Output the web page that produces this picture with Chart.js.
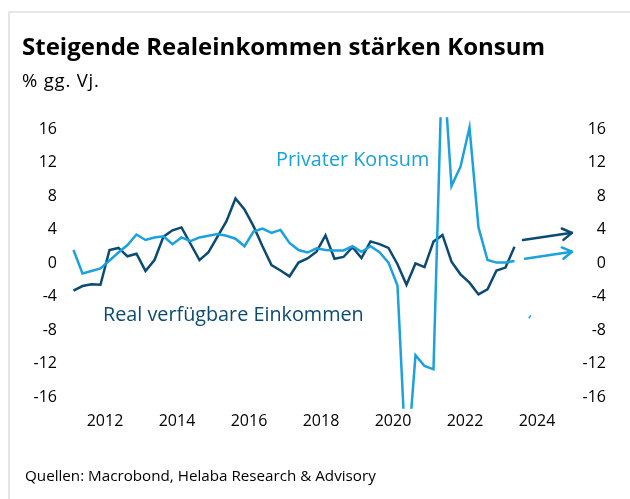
<!DOCTYPE html>
<html><head><meta charset="utf-8">
<script src="https://cdn.jsdelivr.net/npm/chart.js@4.4.0/dist/chart.umd.min.js"></script>
<style>
html,body{margin:0;padding:0;background:#fff;width:630px;height:499px;overflow:hidden;font-family:"Open Sans",sans-serif;color:#000;}
#frame{position:absolute;left:8px;top:11px;right:0;bottom:0;border-top:2px solid #e6e6e6;border-left:2px solid #e6e6e6;}
#title{position:absolute;left:22px;top:34px;font-weight:700;font-size:24px;line-height:24px;white-space:nowrap;}
#sub{position:absolute;left:22px;top:71px;font-size:18.5px;line-height:18px;letter-spacing:0.8px;white-space:nowrap;}
#src{position:absolute;left:25px;top:468px;font-size:15.2px;line-height:15px;white-space:nowrap;}
#c{position:absolute;left:0;top:0;}
</style></head>
<body>
<div id="frame"></div>
<canvas id="c" width="630" height="499"></canvas>
<div id="title">Steigende Realeinkommen stärken Konsum</div>
<div id="sub">% gg. Vj.</div>
<div id="src">Quellen: Macrobond, Helaba Research &amp; Advisory</div>
<script>
const quarters = [
 "2011Q1","2011Q2","2011Q3","2011Q4","2012Q1","2012Q2","2012Q3","2012Q4",
 "2013Q1","2013Q2","2013Q3","2013Q4","2014Q1","2014Q2","2014Q3","2014Q4",
 "2015Q1","2015Q2","2015Q3","2015Q4","2016Q1","2016Q2","2016Q3","2016Q4",
 "2017Q1","2017Q2","2017Q3","2017Q4","2018Q1","2018Q2","2018Q3","2018Q4",
 "2019Q1","2019Q2","2019Q3","2019Q4","2020Q1","2020Q2","2020Q3","2020Q4",
 "2021Q1","2021Q2","2021Q3","2021Q4","2022Q1","2022Q2","2022Q3","2022Q4",
 "2023Q1","2023Q2"];
const privaterKonsum = [
 1.55,-1.25,-0.95,-0.65, 0.3,1.25,2.15,3.4,
 2.75,3.05,3.2,2.25, 3.05,2.6,3.05,3.25,
 3.45,3.25,2.9,2.0, 3.75,4.1,3.6,3.95,
 2.4,1.55,1.25,1.75, 1.55,1.5,1.5,2.0,
 1.35,2.0,1.3,0.05, -2.7,-25.0,-11.0,-12.3,
 -12.7,25.5,9.2,11.5, 16.2,4.25,0.35,0.05,
 0.05,0.25];
const realEinkommen = [
 -3.3,-2.75,-2.55,-2.6, 1.55,1.8,0.8,1.1,
 -0.95,0.35,3.15,3.9, 4.25,2.3,0.35,1.3,
 3.15,5.0,7.7,6.4, 4.4,2.0,-0.25,-0.9,
 -1.6,0.05,0.55,1.35, 3.3,0.5,0.72,1.9,
 0.6,2.58,2.25,1.8, -0.15,-2.6,-0.05,-0.5,
 2.55,3.35,0.15,-1.35, -2.35,-3.75,-3.15,-0.9,
 -0.55,1.95];
const yTicks = [-16,-12,-8,-4,0,4,8,12,16];
const xTicks = [2012,2014,2016,2018,2020,2022,2024];
const seriesNames = ["Privater Konsum","Real verfügbare Einkommen"];

const DARK = "#0b4a73";
const LIGHT = "#1ba1dd";
const FONT = '"Open Sans", sans-serif';

function qToX(q){ const y = parseInt(q.slice(0,4),10); const n = parseInt(q.slice(5),10); return y + (n-1)*0.25 + 0.125; }
const pts = arr => arr.map((v,i)=>({x:qToX(quarters[i]), y:v}));

const annot = {
  id:'annot',
  afterDatasetsDraw(chart){
    const {ctx, scales:{x, y}} = chart;
    const px = v => x.getPixelForValue(v), py = v => y.getPixelForValue(v);
    function arrow(x0,y0,x1,y1,col){
      const X0=px(x0),Y0=py(y0),X1=px(x1),Y1=py(y1);
      const a=Math.atan2(Y1-Y0,X1-X0), L=11, w=0.55;
      ctx.save(); ctx.strokeStyle=col; ctx.lineWidth=2.5; ctx.lineCap='round'; ctx.lineJoin='round';
      ctx.beginPath(); ctx.moveTo(X0,Y0); ctx.lineTo(X1,Y1); ctx.stroke();
      ctx.beginPath(); ctx.moveTo(X1-L*Math.cos(a-w),Y1-L*Math.sin(a-w)); ctx.lineTo(X1,Y1);
      ctx.lineTo(X1-L*Math.cos(a+w),Y1-L*Math.sin(a+w)); ctx.stroke(); ctx.restore();
    }
    arrow(2023.61,2.75,2024.97,3.6,DARK);
    arrow(2023.67,0.5,2024.97,1.35,LIGHT);
    ctx.save(); ctx.strokeStyle=LIGHT; ctx.lineWidth=1.5;
    ctx.beginPath(); ctx.moveTo(px(2023.77),py(-6.6)); ctx.lineTo(px(2023.83),py(-6.25)); ctx.stroke();
    ctx.font = '19.8px '+FONT; ctx.textBaseline='alphabetic'; ctx.textAlign='left';
    ctx.fillStyle=LIGHT; ctx.fillText(seriesNames[0], px(2016.75), py(11.58));
    ctx.fillStyle=DARK; ctx.fillText(seriesNames[1], px(2011.944), py(-6.93));
    ctx.restore();
  }
};

const tickFont = {family:FONT, size:16};
new Chart(document.getElementById('c'), {
  type:'line',
  data:{datasets:[
    {label:seriesNames[0], data:pts(privaterKonsum), borderColor:LIGHT, borderWidth:2.5, pointRadius:0, tension:0, yAxisID:'y'},
    {label:seriesNames[1], data:pts(realEinkommen), borderColor:DARK, borderWidth:2.5, pointRadius:0, tension:0, yAxisID:'y'}
  ]},
  options:{
    responsive:false, animation:false, devicePixelRatio:1,
    layout:{padding:{top:117.3,left:0,right:24,bottom:0}},
    plugins:{legend:{display:false}, tooltip:{enabled:false}, title:{display:false}},
    scales:{
      x:{type:'linear', min:2010.806, max:2025.139, grid:{display:false, drawTicks:false}, border:{display:false},
         afterBuildTicks:s=>{s.ticks = xTicks.map(v=>({value:v}));},
         afterFit:s=>{s.height=90.3;},
         ticks:{padding:3, font:{family:FONT,size:16}, color:'#000', maxRotation:0, autoSkip:false, callback:v=>String(v)}},
      y:{position:'left', min:-17.4, max:17.4, grid:{display:false, drawTicks:false}, border:{display:false},
         afterBuildTicks:s=>{s.ticks = yTicks.map(v=>({value:v}));},
         afterFit:s=>{s.width=62;},
         ticks:{padding:5, font:tickFont, color:'#000', autoSkip:false, callback:v=>String(v)}},
      y2:{position:'right', min:-17.4, max:17.4, grid:{display:false, drawTicks:false}, border:{display:false},
         afterBuildTicks:s=>{s.ticks = yTicks.map(v=>({value:v}));},
         afterFit:s=>{s.width=28;},
         ticks:{padding:0, crossAlign:'far', font:tickFont, color:'#000', autoSkip:false, callback:v=>String(v)}}
    }
  },
  plugins:[annot]
});
</script>
</body></html>
